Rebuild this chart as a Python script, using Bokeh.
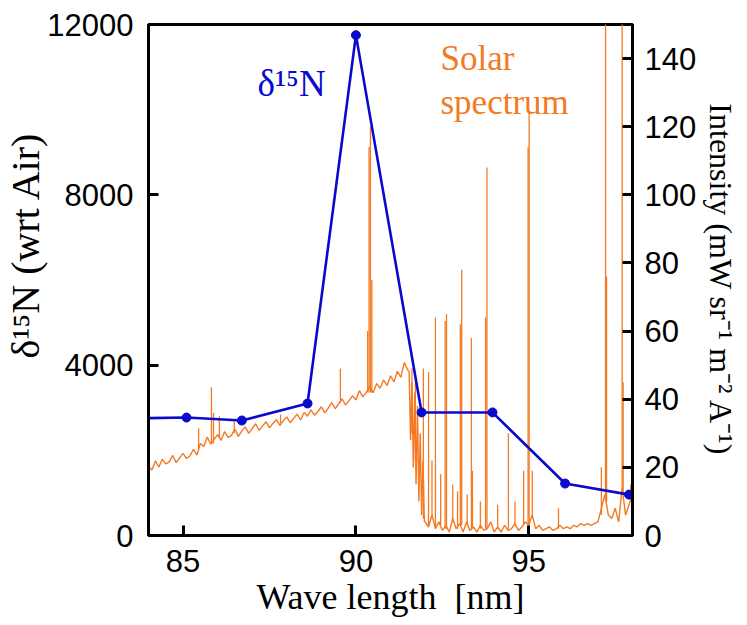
import numpy as np
from bokeh.plotting import figure
from bokeh.models import Range1d, LinearAxis, FixedTicker, Label
from bokeh.embed import file_html
from bokeh.resources import INLINE

# ---- delta 15N series (left axis) ----
d15n_x = [83.5, 85.1, 86.7, 88.6, 90.0, 91.9, 93.95, 96.05, 97.9]
d15n_y = [2750, 2770, 2700, 3100, 11750, 2890, 2890, 1220, 960]

# ---- solar spectrum (right axis) ----
cont_x = np.round(np.arange(84.0, 91.55, 0.1), 2)
cont_y = [20.5, 19.2, 21.9, 20.1, 22.4, 21.0, 21.6, 23.5, 21.4, 22.8,
          24.1, 22.6, 23.4, 25.3, 23.6, 27.0, 26.1, 28.9, 26.8, 28.2,
          29.6, 27.9, 30.5, 28.8, 29.4, 31.2, 29.1, 30.7, 31.9, 30.0,
          31.4, 32.8, 30.9, 32.1, 33.4, 31.6, 32.9, 34.0, 32.3, 33.7,
          34.8, 33.1, 34.4, 35.6, 33.9, 36.1, 35.0, 36.9, 35.3, 36.4,
          37.8, 36.0, 37.4, 39.0, 37.2, 38.6, 40.1, 38.3, 39.6, 41.0,
          39.8, 42.5, 40.7, 42.0, 43.8, 41.9, 44.6, 43.2, 45.7, 44.0,
          46.9, 45.1, 48.2, 46.4, 50.8, 48.6]
drop_x = np.round(np.arange(91.54, 91.99, 0.04), 2)
drop_y = [48, 28, 45, 20, 42, 15, 38, 10, 30, 6, 22, 4]
low_x = np.round(np.arange(92.0, 98.05, 0.1), 2)
low_y = [4, 2.5, 6, 2, 4, 1.5, 3, 1, 5, 2,
         3.5, 1, 4, 1.5, 2.5, 1, 3, 1.5, 2, 4,
         1, 2.5, 1, 3, 1.5, 2, 3.5, 1.5, 2.5, 4,
         3, 6, 2, 3, 1.5, 2, 2.5, 1.5, 2, 3,
         2, 2.5, 2, 3, 2.5, 3.5, 3, 3.5, 3, 3.5,
         4, 8, 12, 6, 5, 8, 4, 14, 6, 9, 12]

# emission lines: position, base, top
line_x = [85.45, 85.82, 85.88, 86.05, 86.48, 87.82, 89.55, 90.34, 90.38, 90.42,
          90.46, 91.62, 91.72, 91.95, 92.1, 92.2, 92.3, 92.45, 92.58, 92.62,
          92.8, 92.94, 93.02, 93.06, 93.22, 93.34, 93.37, 93.6, 93.75, 93.79,
          94.1, 94.41, 94.6, 94.85, 94.98, 95.01, 95.1, 95.86, 97.1, 97.22,
          97.25, 97.7, 97.73, 97.95]
line_base = [25, 27, 27, 28.5, 30, 33, 39, 42, 42, 42,
             42, 30, 22, 5, 3, 5, 2, 3, 2, 2,
             4, 2, 3, 3, 3, 2, 2, 2, 2, 2,
             2, 2, 3, 3, 3, 3, 5, 2, 6, 10,
             10, 12, 12, 10]
line_top = [31.5, 43.5, 36, 35, 33.5, 35.5, 49, 60, 114, 120,
            75, 49, 45, 49, 48, 22, 64, 18, 63, 65,
            15, 13, 62, 78, 12, 58, 19, 10, 64, 108,
            9, 30, 10, 19, 114, 124, 19, 8, 20, 170,
            76, 170, 45, 15]

x_ticks = [85, 90, 95]
left_ticks = [0, 4000, 8000, 12000]
right_ticks = [0, 20, 40, 60, 80, 100, 120, 140]

x_title = "Wave length\u00a0 [nm]"
left_title = "\u00a0" * 7 + "δ¹⁵N (wrt Air)"
right_title = "Intensity (mW sr⁻¹ m⁻² A⁻¹)"

BLUE = "#0A0ACC"
ORANGE = "#F37A22"
SANS = "Liberation Sans"
SERIF = "Liberation Serif"

spec_x = list(cont_x) + list(drop_x) + list(low_x)
spec_y = cont_y + drop_y + low_y

p = figure(width=747, height=625, x_range=Range1d(84, 98), y_range=Range1d(0, 12000),
           output_backend="svg", toolbar_location=None,
           min_border_left=148, min_border_right=115, min_border_top=24, min_border_bottom=90)
p.extra_y_ranges = {"int": Range1d(0, 150)}
p.grid.visible = False
p.outline_line_color = "black"
p.outline_line_width = 3
p.background_fill_color = "white"
p.border_fill_color = "white"

def style_axis(ax, ticks, standoff, title, title_size, title_standoff):
    ax.ticker = FixedTicker(ticks=ticks)
    ax.axis_line_width = 3
    ax.axis_line_color = "black"
    ax.major_tick_in = 10
    ax.major_tick_out = 0
    ax.major_tick_line_width = 3
    ax.minor_tick_line_color = None
    ax.major_label_text_font = SANS
    ax.major_label_text_font_size = "31px"
    ax.major_label_text_color = "black"
    ax.major_label_standoff = standoff
    ax.axis_label = title
    ax.axis_label_text_font = SERIF
    ax.axis_label_text_font_size = title_size
    ax.axis_label_text_font_style = "normal"
    ax.axis_label_text_color = "black"
    ax.axis_label_standoff = title_standoff

style_axis(p.xaxis[0], x_ticks, 14, x_title, "36px", 2)
style_axis(p.yaxis[0], left_ticks, 15, left_title, "40px", -4)
p.yaxis[0].major_label_orientation = "horizontal"

rax = LinearAxis(y_range_name="int")
style_axis(rax, right_ticks, 12, right_title, "32px", 4)
rax.major_label_orientation = "horizontal"
p.add_layout(rax, "right")

# spectrum
p.line(spec_x, spec_y, y_range_name="int", line_color=ORANGE, line_width=1.4)
p.segment(x0=line_x, y0=line_base, x1=line_x, y1=line_top, y_range_name="int",
          line_color=ORANGE, line_width=1.3)

# delta 15N
p.line(d15n_x, d15n_y, line_color=BLUE, line_width=2.6)
p.scatter(d15n_x, d15n_y, size=9, fill_color=BLUE, line_color=BLUE)

# in-plot annotations
p.add_layout(Label(x=87.153, y=10614, text="δ¹⁵N", text_font=SERIF, text_font_size="37px",
                   text_color=BLUE, text_baseline="alphabetic"))
p.add_layout(Label(x=92.446, y=11201, text="Solar", text_font=SERIF, text_font_size="35px",
                   text_color=ORANGE, text_baseline="alphabetic"))
p.add_layout(Label(x=92.446, y=10168, text="spectrum", text_font=SERIF, text_font_size="35px",
                   text_color=ORANGE, text_baseline="alphabetic"))

open("out.html", "w").write(file_html(p, INLINE))
